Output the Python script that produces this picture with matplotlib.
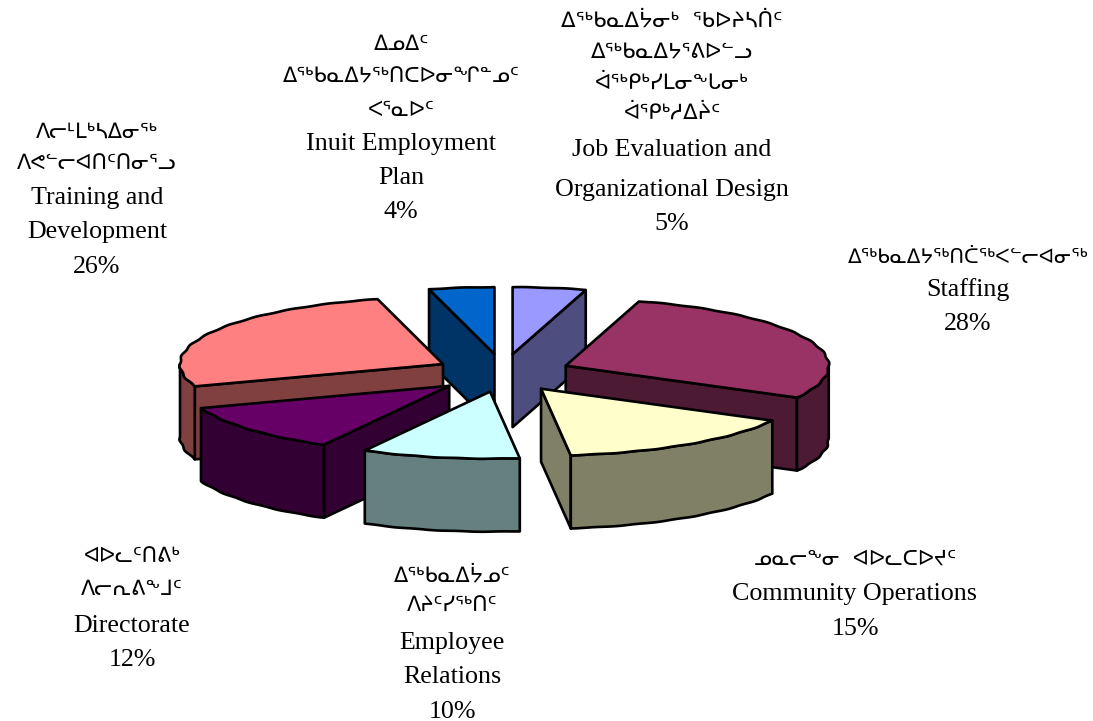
import numpy as np
import matplotlib
matplotlib.use("Agg")
import matplotlib.pyplot as plt
from matplotlib.patches import Polygon

# slices, clockwise from 12 o'clock (shares estimated from the drawn angles)
names = ["Job Evaluation and\nOrganizational Design", "Staffing", "Community Operations",
         "Employee\nRelations", "Directorate", "Training and\nDevelopment", "Inuit Employment\nPlan"]
syllabics = [
    "ᐃᖅᑲᓇᐃᔮᓂᒃ  ᖃᐅᔨᓴᑏᑦ\nᐃᖅᑲᓇᐃᔭᕐᕕᐅᓪᓗ\nᐋᖅᑭᒃᓯᒪᓂᖕᒐᓂᒃ\nᐋᕐᑭᒃᓱᐃᔩᑦ",
    "ᐃᖅᑲᓇᐃᔭᖅᑎᑖᖅᐸᓪᓕᐊᓂᖅ",
    "ᓄᓇᓕᖕᓂ  ᐊᐅᓚᑕᐅᔪᑦ",
    "ᐃᖅᑲᓇᐃᔮᓄᑦ\nᐱᔨᑦᓯᖅᑎᑦ",
    "ᐊᐅᓚᑦᑎᕕᒃ\nᐱᓕᕆᕕᖕᒧᑦ",
    "ᐱᓕᒻᒪᒃᓴᐃᓂᖅ\nᐱᕙᓪᓕᐊᑎᑦᑎᓂᕐᓗ",
    "ᐃᓄᐃᑦ\nᐃᖅᑲᓇᐃᔭᖅᑎᑕᐅᓂᖏᓐᓄᑦ\nᐸᕐᓇᐅᑦ",
]
shares = [4.5, 28.4, 15.3, 9.7, 11.7, 26.4, 4.0]
percents = [5, 28, 15, 10, 12, 26, 4]

top_colors = ["#9999FF", "#993366", "#FFFFCC", "#CCFFFF", "#660066", "#FF8080", "#0066CC"]
side_colors = ["#4D4D80", "#4D1A33", "#808066", "#668080", "#330033", "#804040", "#003366"]

# pie geometry in pixels
cx, cy = 503, 373
rx, ry = 263, 67
depth = 73
explode_x, explode_y = 68, 19
explode_scale = [1, 1, 1, 1, 1.04, 1, 1]
draw_order = [6, 0, 5, 1, 4, 2, 3]  # back to front

# label anchor x and y of every line
label_x = [672, 968, 855, 452, 132, 97, 401]
syl_size = [15.3, 14.4, 15, 15, 15, 15, 15]
label_y = [
    [21, 52, 83, 113, 150, 190, 224],
    [257, 290, 324],
    [559, 594, 629],
    [576, 606, 643, 677, 712],
    [556, 589, 626, 660],
    [132, 164, 198, 232, 267],
    [44, 77, 110, 144, 178, 212],
]

fig = plt.figure(figsize=(10.93, 7.21), dpi=100)
ax = fig.add_axes([0, 0, 1, 1])
ax.set_xlim(0, 1093)
ax.set_ylim(721, 0)
ax.axis("off")


def rim(t0, t1, ax0, ay0):
    # slightly scalloped rim, the original was a coarse metafile outline
    t = np.radians(np.arange(t0, t1, 1.0).tolist() + [t1])
    wob = 1.0 + 0.003 * np.sin(t * 38)
    return np.column_stack([ax0 + rx * np.sin(t) * wob, ay0 - ry * np.cos(t) * wob])


def face(pts, color, z):
    ax.add_patch(Polygon(pts, closed=True, facecolor=color, edgecolor="black",
                         linewidth=1.9, joinstyle="round", zorder=z))


edges = np.cumsum([0] + shares) * 3.6
for z, i in enumerate(draw_order):
    t0, t1 = edges[i], edges[i + 1]
    mid = np.radians((t0 + t1) / 2)
    apex = np.array([cx + explode_scale[i] * explode_x * np.sin(mid),
                     cy - explode_scale[i] * explode_y * np.cos(mid)])
    arc = rim(t0, t1, apex[0], apex[1])
    top = np.vstack([apex, arc])
    down = np.array([0, depth])
    inner = top.mean(axis=0)

    # cut faces, only those turned to the viewer
    for p in (arc[0], arc[-1]):
        d = p - apex
        n = np.array([-d[1], d[0]])
        if np.dot(n, inner - apex) > 0:
            n = -n
        if n[1] > 0:
            face([apex, p, p + down, apex + down], side_colors[i], z * 10 + 1)

    # outer wall where the rim faces front
    lo, hi = max(t0, 90), min(t1, 270)
    if lo < hi:
        wall = rim(lo, hi, apex[0], apex[1])
        face(np.vstack([wall, wall[::-1] + down]), side_colors[i], z * 10 + 2)

    face(top, top_colors[i], z * 10 + 3)

for i in range(len(names)):
    lines = syllabics[i].split("\n") + names[i].split("\n") + ["%d%%" % percents[i]]
    n_syl = len(syllabics[i].split("\n"))
    for j, line in enumerate(lines):
        if j < n_syl:
            ax.text(label_x[i], label_y[i][j], line, ha="center", va="center",
                    fontsize=syl_size[i], family=["DejaVu Sans"], color="black")
        else:
            ax.text(label_x[i], label_y[i][j], line, ha="center", va="center",
                    fontsize=18.7, family=["Liberation Serif"], color="black")

fig.savefig("out.png", dpi=100, facecolor="white")
